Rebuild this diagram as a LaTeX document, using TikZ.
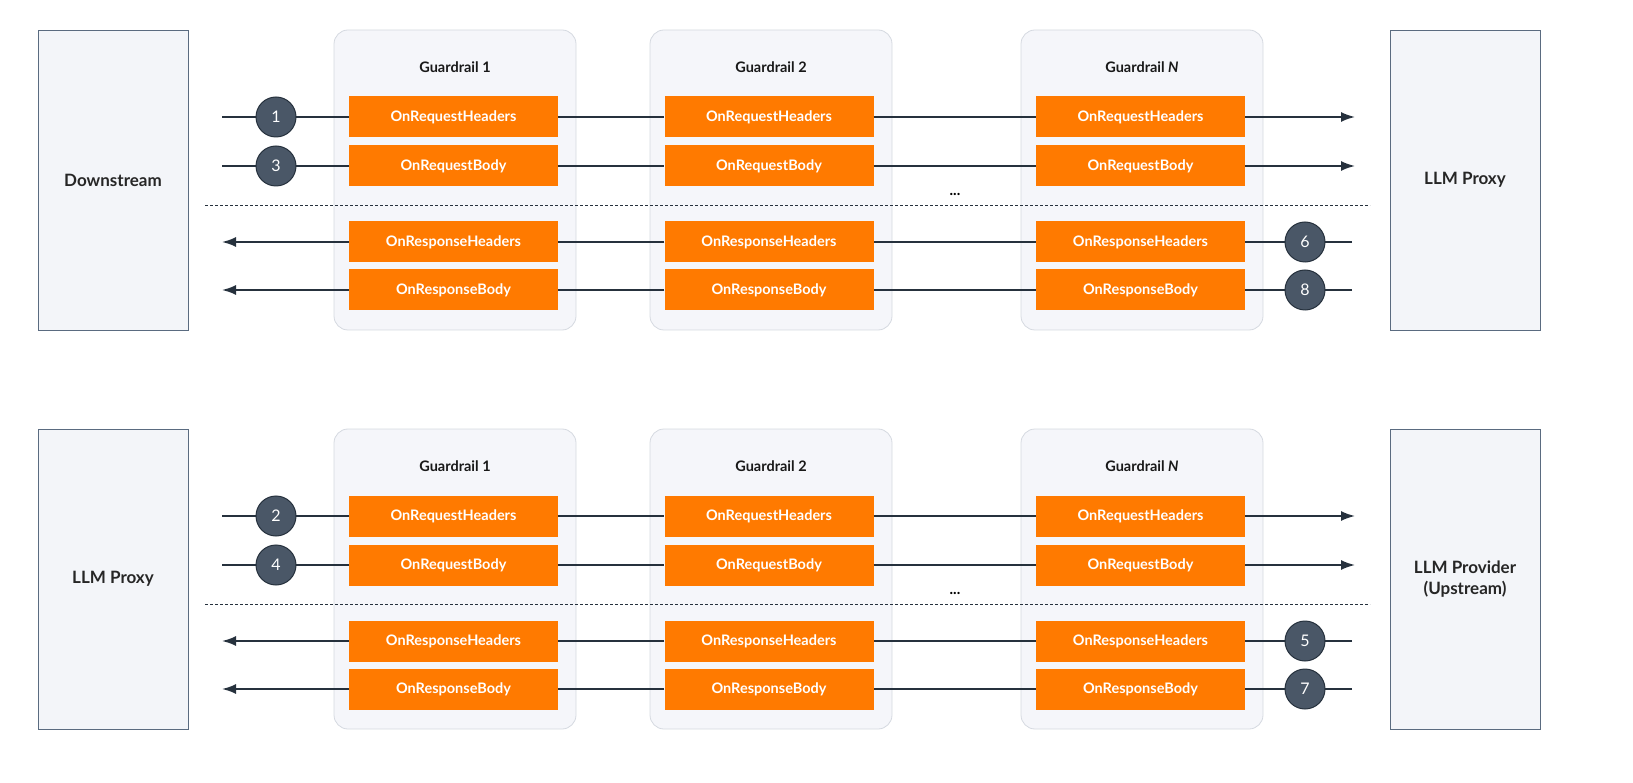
\documentclass[tikz,border=0pt]{standalone}
\usepackage{fontspec}
\setmainfont{Lato}
\usetikzlibrary{arrows.meta}
\definecolor{org}{HTML}{FF7A00}
\definecolor{dark}{HTML}{4A5767}
\definecolor{edge}{HTML}{26313D}
\definecolor{gfill}{HTML}{F5F6FA}
\definecolor{gline}{HTML}{D5D9E0}
\definecolor{sfill}{HTML}{F3F5F9}
\definecolor{sline}{HTML}{5A6B80}
\begin{document}
\begin{tikzpicture}[x=1pt,y=-1pt,
  side/.style={draw=sline,fill=sfill,line width=0.8pt,minimum width=150pt,minimum height=300pt,font=\bfseries\fontsize{17}{21}\selectfont,align=center,text=black!85},
  guard/.style={draw=gline,fill=gfill,rounded corners=14pt,line width=0.8pt,minimum width=242pt,minimum height=300pt},
  hook/.style={fill=org,minimum width=209pt,minimum height=41pt,text=white,font=\bfseries\fontsize{14.5}{17}\selectfont,inner sep=0pt},
  num/.style={circle,fill=dark,draw=edge,line width=1pt,minimum size=40pt,inner sep=0pt,text=white,font=\fontsize{16}{18}\selectfont},
  flow/.style={draw=edge,line width=1.8pt,-{Latex[length=14pt,width=10pt]}},
  ttl/.style={font=\bfseries\fontsize{14.5}{17}\selectfont,text=black!90}]
\foreach \p/\oy/\L/\R/\a/\b/\c/\d in {t/0/Downstream/LLM Proxy/1/3/6/8, b/399/LLM Proxy/{LLM Provider\\(Upstream)}/2/4/5/7}{
  \begin{scope}[yshift=-\oy pt]
  \node[side] (\p L) at (113,180) {\L};
  \node[side] (\p R) at (1465,180) {\R};
  \foreach \g/\gx/\hx/\gt in {1/455/453.5/Guardrail 1, 2/771/769/Guardrail 2, 3/1142/1140.5/{Guardrail \textit{N}}}{
    \node[guard] (\p g\g) at (\gx,180) {};
    \node[ttl] (\p t\g) at (\gx,67) {\gt};
    \node[hook] (\p h\g a) at (\hx,117) {OnRequestHeaders};
    \node[hook] (\p h\g b) at (\hx,166) {OnRequestBody};
    \node[hook] (\p h\g c) at (\hx,242) {OnResponseHeaders};
    \node[hook] (\p h\g d) at (\hx,290) {OnResponseBody};
  }
  \coordinate (\p la) at (222,117); \coordinate (\p ra) at (1355,117);
  \coordinate (\p lb) at (222,166); \coordinate (\p rb) at (1355,166);
  \coordinate (\p lc) at (222,242); \coordinate (\p rc) at (1352,242);
  \coordinate (\p ld) at (222,290); \coordinate (\p rd) at (1352,290);
  \draw[flow] (\p la) -- (\p h1a) -- (\p h2a) -- (\p h3a) -- (\p ra);
  \draw[flow] (\p lb) -- (\p h1b) -- (\p h2b) -- (\p h3b) -- (\p rb);
  \draw[flow] (\p rc) -- (\p h3c) -- (\p h2c) -- (\p h1c) -- (\p lc);
  \draw[flow] (\p rd) -- (\p h3d) -- (\p h2d) -- (\p h1d) -- (\p ld);
  \node[num] (\p n1) at (276,117) {\a};
  \node[num] (\p n2) at (276,166) {\b};
  \node[num] (\p n3) at (1305,242) {\c};
  \node[num] (\p n4) at (1305,290) {\d};
  \coordinate (\p dl) at (205,205); \coordinate (\p dr) at (1370,205);
  \draw[draw=edge,line width=0.8pt,dash pattern=on 3pt off 2pt] (\p dl) -- (\p dr);
  \node[font=\bfseries\fontsize{15}{16}\selectfont] (\p dots) at (955,194) {...};
  \end{scope}}
\pgfresetboundingbox
\useasboundingbox (0,0) rectangle (1633,783);
\end{tikzpicture}
\end{document}
